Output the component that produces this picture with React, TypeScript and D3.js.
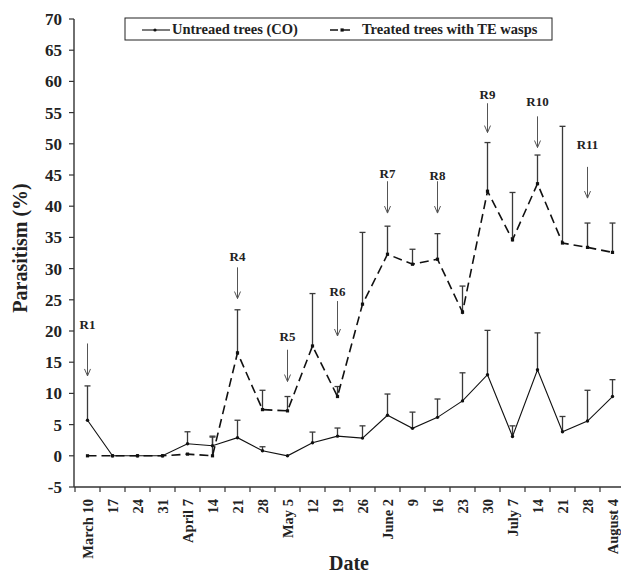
import React from "react";
import * as d3 from "d3";

const categories = [
  "March 10", "17", "24", "31", "April 7", "14", "21", "28", "May 5", "12", "19", "26",
  "June 2", "9", "16", "23", "30", "July 7", "14", "21", "28", "August 4",
];

const untreatedValues = [5.7, 0, 0, 0, 1.93, 1.6, 2.9, 0.8, 0, 2.1, 3.15, 2.84, 6.5, 4.4, 6.16, 8.8, 13.0, 3.1, 13.8, 3.86, 5.57, 9.5];
const untreatedErrTop = [11.2, null, null, null, 3.85, 3.15, 5.7, 1.45, null, 3.8, 4.45, 4.8, 9.9, 7.0, 9.1, 13.3, 20.1, 4.8, 19.7, 6.3, 10.5, 12.2];

const treatedValues = [0, 0, 0, 0, 0.27, 0, 16.5, 7.4, 7.2, 17.6, 9.5, 24.3, 32.3, 30.7, 31.5, 23.0, 42.4, 34.6, 43.6, 34.1, 33.4, 32.6];
const treatedErrTop = [null, null, null, null, null, 3.0, 23.4, 10.5, 9.5, 26.0, 11.1, 35.8, 36.8, 33.1, 35.6, 27.2, 50.2, 42.2, 48.2, 52.8, 37.3, 37.3];

const releaseLabels = ["R1", "R4", "R5", "R6", "R7", "R8", "R9", "R10", "R11"];
const releaseCats = [0, 6, 8, 10, 12, 14, 16, 18, 20];
const releaseLabelVal = [20.3, 31.2, 18.4, 25.6, 44.5, 44.2, 57.2, 56.0, 49.1];
const releaseArrowTop = [18.0, 30.2, 17.0, 24.8, 44.0, 44.0, 56.5, 54.4, 46.3];
const releaseArrowTip = [12.8, 25.2, 11.9, 19.2, 38.9, 38.9, 51.8, 49.4, 41.3];

const yTicks = d3.range(-5, 71, 5);

const W = 621;
const H = 573;
const FONT = "'Liberation Serif', 'Times New Roman', serif";

export default function App() {
  const x = d3.scaleBand<string>().domain(categories.map((c, i) => i + "")).range([75, 625]).padding(0);
  const cx = (i: number) => (x(i + "") as number) + x.bandwidth() / 2;
  const y = d3.scaleLinear().domain([-5, 70]).range([487, 19]);

  const lineGen = d3
    .line<number>()
    .x((_, i) => cx(i))
    .y((d) => y(d));

  const axisColor = "#333";
  const errColor = "#3a3a3a";
  const capW = 3;

  const renderErr = (vals: number[], tops: (number | null)[], key: string) =>
    vals.map((v, i) => {
      const t = tops[i];
      if (t == null) return null;
      return (
        <g key={key + i} stroke={errColor} strokeWidth={1.3}>
          <line x1={cx(i)} x2={cx(i)} y1={y(v)} y2={y(t)} />
          <line x1={cx(i) - capW} x2={cx(i) + capW} y1={y(t)} y2={y(t)} />
        </g>
      );
    });

  return (
    <svg
      width={W}
      height={H}
      style={{ position: "absolute", left: 0, top: 0, background: "#fff" }}
      fontFamily={FONT}
    >
      <rect x={0} y={0} width={W} height={H} fill="#fff" />
      {/* Y axis */}
      <line x1={74} x2={74} y1={y(-5)} y2={y(70)} stroke={axisColor} strokeWidth={1.4} />
      {yTicks.map((t) => (
        <g key={"yt" + t}>
          <line x1={69} x2={74} y1={y(t)} y2={y(t)} stroke={axisColor} strokeWidth={1.2} />
          <text x={62} y={y(t)} dy="0.35em" textAnchor="end" fontSize={17} fontWeight="bold" fill="#222">
            {t}
          </text>
        </g>
      ))}
      {/* X axis */}
      <line x1={74} x2={W} y1={y(-5)} y2={y(-5)} stroke={axisColor} strokeWidth={1.4} />
      {categories.map((c, i) => (
        <line
          key={"xt" + i}
          x1={x(i + "") as number}
          x2={x(i + "") as number}
          y1={y(-5)}
          y2={y(-5) + 5}
          stroke={axisColor}
          strokeWidth={1.2}
        />
      ))}
      {categories.map((c, i) => (
        <text
          key={"xl" + i}
          transform={`translate(${cx(i)},499) rotate(-90)`}
          dy="0.35em"
          textAnchor="end"
          fontSize={14.5}
          fontWeight="bold"
          fill="#222"
        >
          {c}
        </text>
      ))}
      {/* Axis titles */}
      <text x={349} y={570} textAnchor="middle" fontSize={20} fontWeight="bold" fill="#222">
        Date
      </text>
      <text
        transform={`translate(20,248) rotate(-90)`}
        dy="0.35em"
        textAnchor="middle"
        fontSize={20}
        fontWeight="bold"
        fill="#222"
      >
        Parasitism (%)
      </text>

      {/* Error bars */}
      {renderErr(treatedValues, treatedErrTop, "te")}
      {renderErr(untreatedValues, untreatedErrTop, "ue")}

      {/* Treated dashed line */}
      <path d={lineGen(treatedValues) || ""} fill="none" stroke="#111" strokeWidth={1.6} strokeDasharray="9,5" />
      {treatedValues.map((v, i) => (
        <rect key={"tm" + i} x={cx(i) - 1.6} y={y(v) - 1.6} width={3.2} height={3.2} fill="#111" />
      ))}
      {/* Untreated solid line */}
      <path d={lineGen(untreatedValues) || ""} fill="none" stroke="#111" strokeWidth={1.1} />
      {untreatedValues.map((v, i) => (
        <circle key={"um" + i} cx={cx(i)} cy={y(v)} r={1.7} fill="#111" />
      ))}

      {/* Release arrows */}
      {releaseLabels.map((lab, k) => {
        const xc = cx(releaseCats[k]);
        const yt = y(releaseArrowTop[k]);
        const yp = y(releaseArrowTip[k]);
        return (
          <g key={"r" + k}>
            <line x1={xc} x2={xc} y1={yt} y2={yp} stroke="#555" strokeWidth={1} />
            <path
              d={`M${xc - 3},${yp - 7} L${xc},${yp} L${xc + 3},${yp - 7}`}
              fill="none"
              stroke="#555"
              strokeWidth={1}
            />
            <text x={xc} y={y(releaseLabelVal[k])} textAnchor="middle" fontSize={13} fontWeight="bold" fill="#222">
              {lab}
            </text>
          </g>
        );
      })}

      {/* Legend */}
      <rect x={125} y={18} width={427} height={22} fill="#fff" stroke="#222" strokeWidth={1} />
      <line x1={142} x2={170} y1={30} y2={30} stroke="#111" strokeWidth={1.1} />
      <circle cx={155} cy={30} r={1.6} fill="#111" />
      <text x={172} y={33.5} fontSize={14.5} fontWeight="bold" fill="#222">
        Untreaed trees (CO)
      </text>
      <line x1={330} x2={354} y1={30} y2={30} stroke="#111" strokeWidth={1.6} strokeDasharray="8,4" />
      <rect x={340.5} y={28.4} width={3.2} height={3.2} fill="#111" />
      <text x={362} y={33.5} fontSize={14.5} fontWeight="bold" fill="#222">
        Treated trees with TE wasps
      </text>
    </svg>
  );
}
